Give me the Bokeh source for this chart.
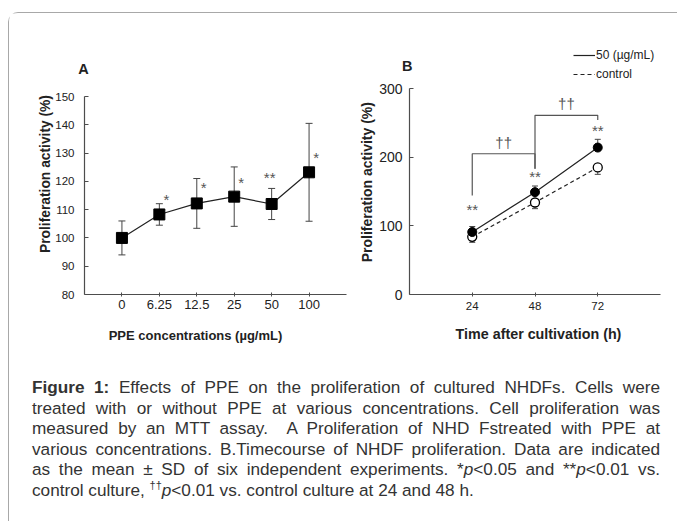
import math
from bokeh.plotting import figure
from bokeh.models import (Range1d, FixedTicker, Whisker, TeeHead, ColumnDataSource,
                          Label, Legend, LegendItem, Div)
from bokeh.layouts import row, column
from bokeh.core.properties import value
from bokeh.embed import file_html
from bokeh.resources import INLINE

# ---------------- data ----------------
conc_labels = ["0", "6.25", "12.5", "25", "50", "100"]
conc_mean = [100, 108.3, 112.2, 114.6, 112.0, 123.2]
conc_sd = [6.0, 3.8, 8.8, 10.5, 5.5, 17.3]
conc_sig = ["", "*", "*", "*", "**", "*"]
conc_sig_y = [0, 113.5, 118.0, 119.5, 121.5, 128.5]

time_labels = ["24", "48", "72"]
ppe50_mean = [91, 149, 214]
ppe50_sd = [8, 9, 12]
ctrl_mean = [84, 134, 185]
ctrl_sd = [8, 9, 10]
time_sig = ["**", "**", "**"]
time_sig_y = [124, 172, 239]

# significance brackets (24 vs 48, 48 vs 72)
br_from = [0, 1]
br_to = [1, 2]
br_top = [205, 261]
br_left_bottom = [144, 183]
br_right_bottom = [183, 254]
br_label = ["\u2020\u2020", "\u2020\u2020"]
br_label_y = [222, 278]

FONT = "Liberation Sans"
AX = "#4d4d4d"
TXT = "#222222"
SPLIT = 352  # page pixel where panel B's canvas starts


class Geo:
    """maps page pixels <-> data for a figure whose frame is the whole canvas"""

    def __init__(self, d0, d1, p0, p1):
        self.d0, self.d1, self.p0, self.p1 = d0, d1, p0, p1

    def __call__(self, px):
        return self.d0 + (px - self.p0) * (self.d1 - self.d0) / (self.p1 - self.p0)


def make_fig(cx0, cx1, cy0, cy1, gx, gy):
    # canvas from page pixel cx0..cx1 / cy0..cy1 ; frame == canvas
    p = figure(width=cx1 - cx0, height=cy1 - cy0, output_backend="svg", toolbar_location=None,
               x_range=Range1d(gx(cx0), gx(cx1)), y_range=Range1d(gy(cy1), gy(cy0)), min_border=0)
    p.grid.visible = False
    p.outline_line_color = None
    p.background_fill_color = "white"
    p.border_fill_color = "white"
    for ax in (p.xaxis[0], p.yaxis[0]):
        ax.axis_line_color = AX
        ax.axis_line_width = 1.2
        ax.major_tick_line_color = AX
        ax.minor_tick_line_color = None
        ax.major_label_text_font = FONT
        ax.major_label_text_color = TXT
    return p


def title(p, gx, gy, px, py, text, size, angle=0.0, bold=True):
    p.add_layout(Label(x=gx(px), y=gy(py), text=text, angle=angle, text_align="center",
                       text_baseline="middle", text_font=FONT, text_font_size=size,
                       text_font_style="bold" if bold else "normal", text_color=TXT))


# ---------------- panel A ----------------
xa = list(range(1, len(conc_labels) + 1))
gxA = Geo(0, len(conc_labels) + 1, 84, 346)
gyA = Geo(80, 150, 294, 96)
pA = make_fig(9, SPLIT, 13, 353, gxA, gyA)
pA.xaxis.fixed_location = 80
pA.xaxis.bounds = (0, len(conc_labels) + 1)
pA.yaxis.fixed_location = 0
pA.yaxis.bounds = (80, 150)
pA.xaxis.ticker = FixedTicker(ticks=xa)
pA.xaxis.major_label_overrides = {i: l for i, l in zip(xa, conc_labels)}
pA.xaxis.major_tick_in = 2
pA.xaxis.major_tick_out = 2
pA.xaxis.major_label_standoff = 3
pA.xaxis.major_label_text_font_size = "13px"
pA.yaxis.ticker = FixedTicker(ticks=list(range(80, 151, 10)))
pA.yaxis.major_tick_in = 4
pA.yaxis.major_tick_out = 0
pA.yaxis.major_label_standoff = 10
pA.yaxis.major_label_text_font_size = "11.5px"

srcA = ColumnDataSource(dict(x=xa, y=conc_mean,
                             lo=[m - s for m, s in zip(conc_mean, conc_sd)],
                             hi=[m + s for m, s in zip(conc_mean, conc_sd)]))
pA.add_layout(Whisker(source=srcA, base="x", lower="lo", upper="hi", line_color="#444444", line_width=1,
                      lower_head=TeeHead(size=7, line_color="#444444"),
                      upper_head=TeeHead(size=7, line_color="#444444")))
pA.line("x", "y", source=srcA, line_color="#222222", line_width=1.2)
pA.scatter("x", "y", source=srcA, marker="square", size=11, fill_color="black", line_color="black")

sigA = ColumnDataSource(dict(x=xa[1:], y=conc_sig_y[1:], t=conc_sig[1:],
                             xo=[7 if t == "*" else -2 for t in conc_sig[1:]]))
pA.text("x", "y", text="t", source=sigA, x_offset="xo", text_align="center", text_baseline="middle",
        text_font=value(FONT), text_font_size="15px", text_color="#555555")

title(pA, gxA, gyA, 83, 68, "A", "14.5px")
title(pA, gxA, gyA, 45, 173.5, "Proliferation activity (%)", "13.8px", angle=math.pi / 2)
title(pA, gxA, gyA, 195, 335, "PPE concentrations (\u00b5g/mL)", "13px")

# ---------------- panel B ----------------
xb = list(range(1, len(time_labels) + 1))
gxB = Geo(0, len(time_labels) + 1, 409, 660)
gyB = Geo(0, 300, 294, 88)
pB = make_fig(SPLIT, 677, 13, 353, gxB, gyB)
pB.xaxis.fixed_location = 0
pB.xaxis.bounds = (0, len(time_labels) + 1)
pB.yaxis.fixed_location = 0
pB.yaxis.bounds = (0, 300)
pB.xaxis.ticker = FixedTicker(ticks=xb)
pB.xaxis.major_label_overrides = {i: l for i, l in zip(xb, time_labels)}
pB.xaxis.major_tick_in = 2
pB.xaxis.major_tick_out = 2
pB.xaxis.major_label_standoff = 5
pB.xaxis.major_label_text_font_size = "11.5px"
pB.yaxis.ticker = FixedTicker(ticks=[0, 100, 200, 300])
pB.yaxis.major_tick_in = 4
pB.yaxis.major_tick_out = 0
pB.yaxis.major_label_standoff = 7
pB.yaxis.major_label_text_font_size = "14px"

src50 = ColumnDataSource(dict(x=xb, y=ppe50_mean, hi=[m + s for m, s in zip(ppe50_mean, ppe50_sd)]))
srcC = ColumnDataSource(dict(x=xb, y=ctrl_mean, lo=[m - s for m, s in zip(ctrl_mean, ctrl_sd)]))
pB.add_layout(Whisker(source=src50, base="x", lower="y", upper="hi", line_color="#444444",
                      lower_head=None, upper_head=TeeHead(size=6, line_color="#444444")))
pB.add_layout(Whisker(source=srcC, base="x", lower="lo", upper="y", line_color="#444444",
                      upper_head=None, lower_head=TeeHead(size=6, line_color="#444444")))
l50 = pB.line("x", "y", source=src50, line_color="#222222", line_width=1.2)
lC = pB.line("x", "y", source=srcC, line_color="#222222", line_width=1.2, line_dash="4 3")
pB.scatter("x", "y", source=srcC, marker="circle", size=9, fill_color="white", line_color="black",
           line_width=1.3)
pB.scatter("x", "y", source=src50, marker="circle", size=9, fill_color="black", line_color="black")

xs, ys = [], []
for a, b, t, lb, rb in zip(br_from, br_to, br_top, br_left_bottom, br_right_bottom):
    xs.append([xb[a], xb[a], xb[b], xb[b]])
    ys.append([lb, t, t, rb])
pB.multi_line(xs, ys, line_color="#555555", line_width=1.2)
pB.text([(xb[a] + xb[b]) / 2 for a, b in zip(br_from, br_to)], br_label_y, text=br_label,
        text_align="center", text_baseline="middle", text_font=value(FONT), text_font_size="15px",
        text_color="#555555")
pB.text(xb, time_sig_y, text=time_sig, text_align="center", text_baseline="middle",
        text_font=value(FONT), text_font_size="15px", text_color="#555555")

title(pB, gxB, gyB, 406.7, 65, "B", "14.5px")
title(pB, gxB, gyB, 366, 181.7, "Proliferation activity (%)", "14px", angle=math.pi / 2)
title(pB, gxB, gyB, 538, 333, "Time after cultivation (h)", "14.3px")

leg = Legend(items=[LegendItem(label="50 (\u00b5g/mL)", renderers=[l50]),
                    LegendItem(label="control", renderers=[lC])],
             location=(573 - SPLIT, 353 - 83), padding=0, margin=0, spacing=1, glyph_width=22,
             glyph_height=18, label_height=18, label_standoff=1, border_line_color=None,
             background_fill_alpha=0, label_text_font=FONT, label_text_font_size="12px",
             label_text_color=TXT)
pB.add_layout(leg)

# ---------------- caption ----------------
line_style = "text-align:justify;text-align-last:justify;"
lines = [
    "<b>Figure 1:</b> Effects of PPE on the proliferation of cultured NHDFs. Cells were",
    "treated with or without PPE at various concentrations. Cell proliferation was",
    "measured by an MTT assay.&nbsp; A Proliferation of NHD Fstreated with PPE at",
    "various concentrations. B.Timecourse of NHDF proliferation. Data are indicated",
    "as the mean \u00b1 SD of six independent experiments. *<i>p</i>&lt;0.05 and **<i>p</i>&lt;0.01 vs.",
]
last = ("control culture, <sup style='font-size:11px;line-height:0'>\u2020\u2020</sup><i>p</i>&lt;0.01 "
        "vs. control culture at 24 and 48 h.")
html = ("<div style=\"box-sizing:content-box;font-family:'Liberation Sans',Arial,sans-serif;"
        "font-size:17.2px;line-height:20.5px;color:#333;width:628px;padding-left:18px;"
        "padding-top:19px;margin:0;\">"
        + "".join(f"<div style='{line_style}'>{l}</div>" for l in lines)
        + f"<div>{last}</div></div>")
cap = Div(text=html, width=668, height=168)

p = column(row(pA, pB), cap, margin=(12, 0, 0, 8),
           styles={"border-top": "1px solid #a8a8a8", "border-left": "1px solid #a8a8a8",
                   "border-top-left-radius": "10px"})

open("out.html", "w").write(file_html(p, INLINE))
